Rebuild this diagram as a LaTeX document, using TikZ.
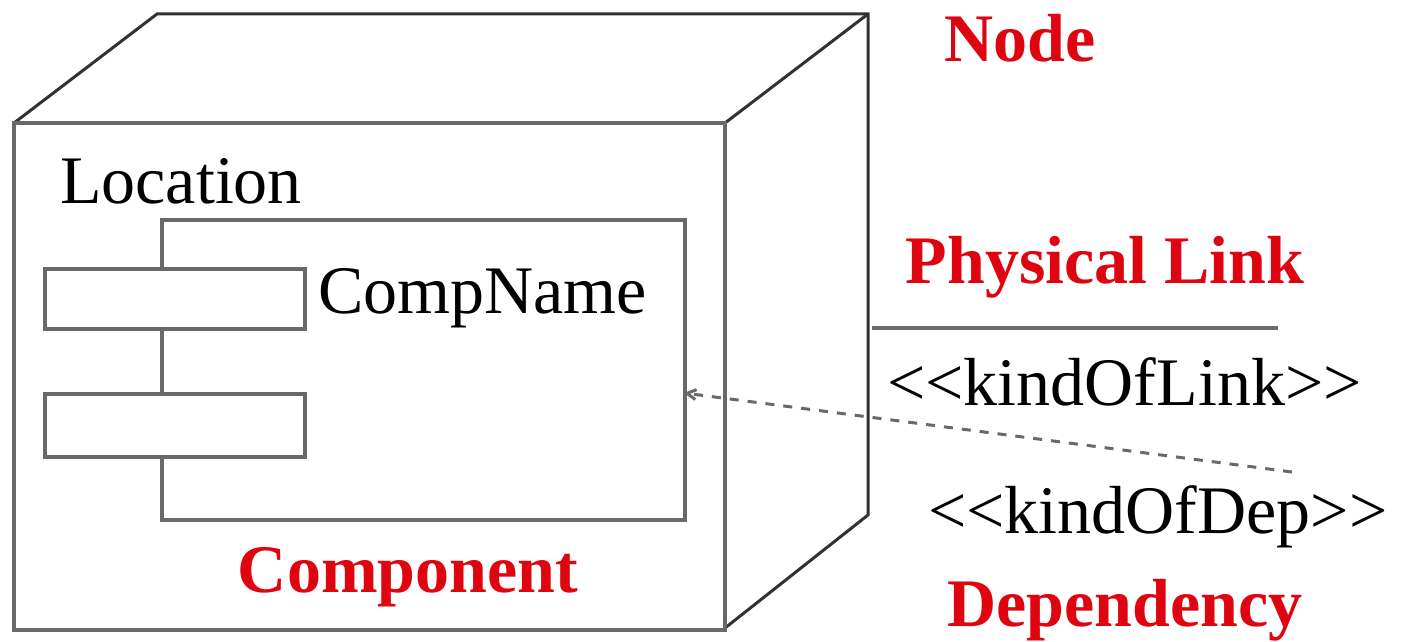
\documentclass[tikz,border=0pt]{standalone}
\usepackage{fontspec}
\setmainfont{Liberation Serif}
\usetikzlibrary{arrows.meta}
\definecolor{umlred}{RGB}{222,4,16}
\definecolor{edgegray}{RGB}{105,105,105}
\definecolor{edgedark}{RGB}{50,50,50}
\tikzset{
  frontedge/.style={draw=edgegray,line width=4pt},
  backedge/.style={draw=edgedark,line width=3pt,line join=miter},
  compbox/.style={draw=edgegray,line width=3.5pt,fill=white,inner sep=0pt,minimum width=#1},
  blacktext/.style={font=\fontsize{68}{80}\selectfont,text=black,inner sep=0pt},
  redtext/.style={font=\fontsize{68}{80}\selectfont\bfseries,text=umlred,inner sep=0pt},
  deparrow/.style={draw=edgegray,line width=3pt,dash pattern=on 9pt off 9pt,-{Straight Barb[length=9pt,width=10pt]}},
  linkline/.style={draw=edgegray,line width=3.5pt}
}
\newcommand{\ltlt}{\symbol{"3C}\kern0pt\symbol{"3C}\kern0pt}
\newcommand{\gtgt}{\kern0pt\symbol{"3E}\kern0pt\symbol{"3E}}
\begin{document}
\begin{tikzpicture}[x=1pt,y=-1pt]
\useasboundingbox (0,0) rectangle (1408,642);
% cube (node)
\draw[backedge] (14,123) -- (157,14) -- (868,14) -- (868,515) -- (725,628);
\draw[backedge] (725,123) -- (868,14);
\draw[frontedge] (14,123) rectangle (725,630);
% component
\node[compbox=523pt,minimum height=300pt,anchor=north west] (comp) at (160,218) {};
\node[compbox=260pt,minimum height=60pt,anchor=north west] (port1) at (43,267) {};
\node[compbox=260pt,minimum height=63pt,anchor=north west] (port2) at (43,392) {};
% texts
\node[blacktext,anchor=base west] (loc) at (60,203) {Location};
\node[blacktext,anchor=base west] (cname) at (318,313) {CompName};
\node[redtext,anchor=base] (lcomp) at (408,592) {Component};
\node[redtext,anchor=base] (lnode) at (1020,62) {Node};
\node[redtext,anchor=base] (llink) at (1105,283) {Physical Link};
\node[blacktext,anchor=base west] (kol) at (887,405) {\ltlt kindOfLink\gtgt};
\node[blacktext,anchor=base west] (kod) at (928,533) {\ltlt kindOfDep\gtgt};
\node[redtext,anchor=base] (ldep) at (1125,626) {Dependency};
% connectors
\coordinate (linkA) at (872,328);
\coordinate (linkB) at (1278,328);
\draw[linkline] (linkA) -- (linkB);
\coordinate (depstart) at (1292,472);
\coordinate (depend) at (684,393);
\draw[deparrow] (depstart) -- (depend);
\end{tikzpicture}
\end{document}
